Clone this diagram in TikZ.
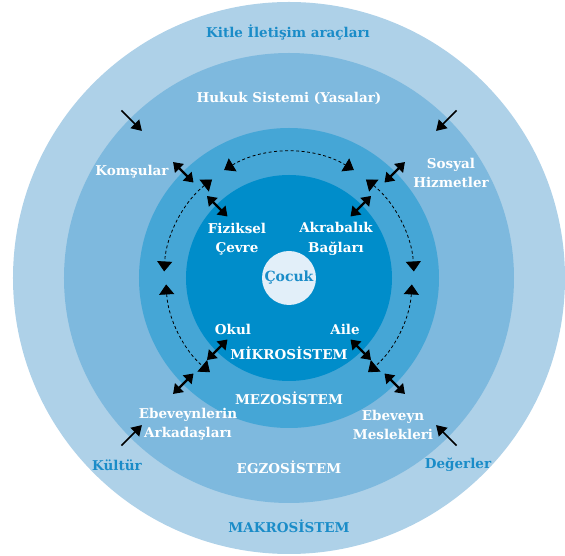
\documentclass[tikz,border=0pt]{standalone}
\usepackage{fontspec}
\setmainfont{DejaVu Serif}
\usepackage{tikz}
\usetikzlibrary{arrows.meta}
\definecolor{makro}{HTML}{AED1E8}
\definecolor{egzo}{HTML}{7EB9DE}
\definecolor{mezo}{HTML}{45A6D6}
\definecolor{mikro}{HTML}{008DCA}
\definecolor{cocukfill}{HTML}{E2EFF9}
\definecolor{txtblue}{HTML}{1A8CC8}
\tikzset{wlbl/.style={inner sep=0pt, align=center, text=white, font=\bfseries\fontsize{13.5}{19.5}\selectfont}}
\tikzset{blbl/.style={wlbl, text=txtblue}}
\tikzset{dbl/.style={line width=2.2pt, {Triangle[width=12pt,length=9pt]}-{Triangle[width=12pt,length=9pt]}}}
\tikzset{inarr/.style={line width=1.6pt, -{Triangle[width=12pt,length=10pt]}}}
\tikzset{darc/.style={line width=0.8pt, dash pattern=on 3pt off 2.5pt, {Triangle[width=15pt,length=10pt]}-{Triangle[width=15pt,length=10pt]}}}

\begin{document}
\begin{tikzpicture}[x=1pt, y=1pt]
    \useasboundingbox (-289,-278) rectangle (276,278);
    \fill[makro] (0,0) circle (276);
    \fill[egzo] (0,0) circle (225);
    \fill[mezo] (0,0) circle (150);
    \fill[mikro] (0,0) circle (103);
    \node[circle, fill=cocukfill, minimum size=54pt, inner sep=0pt, text=txtblue, font=\bfseries\fontsize{14}{16}\selectfont] (cocuk) at (0,0) {Çocuk};

    \node[blbl] (kitle) at (-1, 246) {Kitle İletişim araçları};
    \node[wlbl] (hukuk) at (0, 180) {Hukuk Sistemi (Yasalar)};
    \node[wlbl] (koms) at (-157, 106) {Komşular};
    \node[wlbl] (sosyal) at (162, 105) {Sosyal\\Hizmetler};
    \node[wlbl] (fiz) at (-52, 39) {Fiziksel\\Çevre};
    \node[wlbl] (akr) at (47, 39) {Akrabalık\\Bağları};
    \node[wlbl] (okul) at (-56, -51) {Okul};
    \node[wlbl] (aile) at (56, -51) {Aile};
    \node[wlbl] (mikrolbl) at (0, -75) {MİKROSİSTEM};
    \node[wlbl] (mezolbl) at (0, -120) {MEZOSİSTEM};
    \node[wlbl] (ebvark) at (-101, -146) {Ebeveynlerin\\Arkadaşları};
    \node[wlbl] (ebvmes) at (104, -147) {Ebeveyn\\Meslekleri};
    \node[wlbl] (egzolbl) at (0, -189) {EGZOSİSTEM};
    \node[blbl] (kultur) at (-172, -187) {Kültür};
    \node[blbl] (degerler) at (169, -187) {Değerler};
    \node[blbl] (makrolbl) at (0, -248) {MAKROSİSTEM};

    \coordinate (inTLa) at (135:237);
    \coordinate (inTLb) at (135:208);
    \coordinate (inTRa) at (45:237);
    \coordinate (inTRb) at (45:208);
    \coordinate (inBLa) at (225:237);
    \coordinate (inBLb) at (225:208);
    \coordinate (inBRa) at (315:237);
    \coordinate (inBRb) at (315:208);
    \draw[inarr] (inTLa) -- (inTLb);
    \draw[inarr] (inTRa) -- (inTRb);
    \draw[inarr] (inBLa) -- (inBLb);
    \draw[inarr] (inBRa) -- (inBRb);

    \coordinate (komsA) at (135:164);
    \coordinate (komsB) at (135:135);
    \coordinate (sosA) at (45:164);
    \coordinate (sosB) at (45:135);
    \coordinate (arkA) at (225:164);
    \coordinate (arkB) at (225:135);
    \coordinate (mesA) at (315:164);
    \coordinate (mesB) at (315:135);
    \coordinate (fizA) at (135:116);
    \coordinate (fizB) at (135:87);
    \coordinate (akrA) at (45:116);
    \coordinate (akrB) at (45:87);
    \coordinate (okulA) at (225:116);
    \coordinate (okulB) at (225:87);
    \coordinate (aileA) at (315:116);
    \coordinate (aileB) at (315:87);
    \draw[dbl] (komsA) -- (komsB);
    \draw[dbl] (sosA) -- (sosB);
    \draw[dbl] (arkA) -- (arkB);
    \draw[dbl] (mesA) -- (mesB);
    \draw[dbl] (fizA) -- (fizB);
    \draw[dbl] (akrA) -- (akrB);
    \draw[dbl] (okulA) -- (okulB);
    \draw[dbl] (aileA) -- (aileB);

    \coordinate (arcT) at (121:126);
    \coordinate (arcLU) at (128:125);
    \coordinate (arcLD) at (183:123);
    \coordinate (arcRU) at (52:125);
    \coordinate (arcRD) at (-3:123);
    \draw[darc] (arcT) arc[start angle=121, end angle=59, radius=126];
    \draw[darc] (arcLU) arc[start angle=128, end angle=177, radius=125];
    \draw[darc] (arcLD) arc[start angle=183, end angle=230, radius=123];
    \draw[darc] (arcRU) arc[start angle=52, end angle=3, radius=125];
    \draw[darc] (arcRD) arc[start angle=-3, end angle=-50, radius=123];
\end{tikzpicture}
\end{document}
